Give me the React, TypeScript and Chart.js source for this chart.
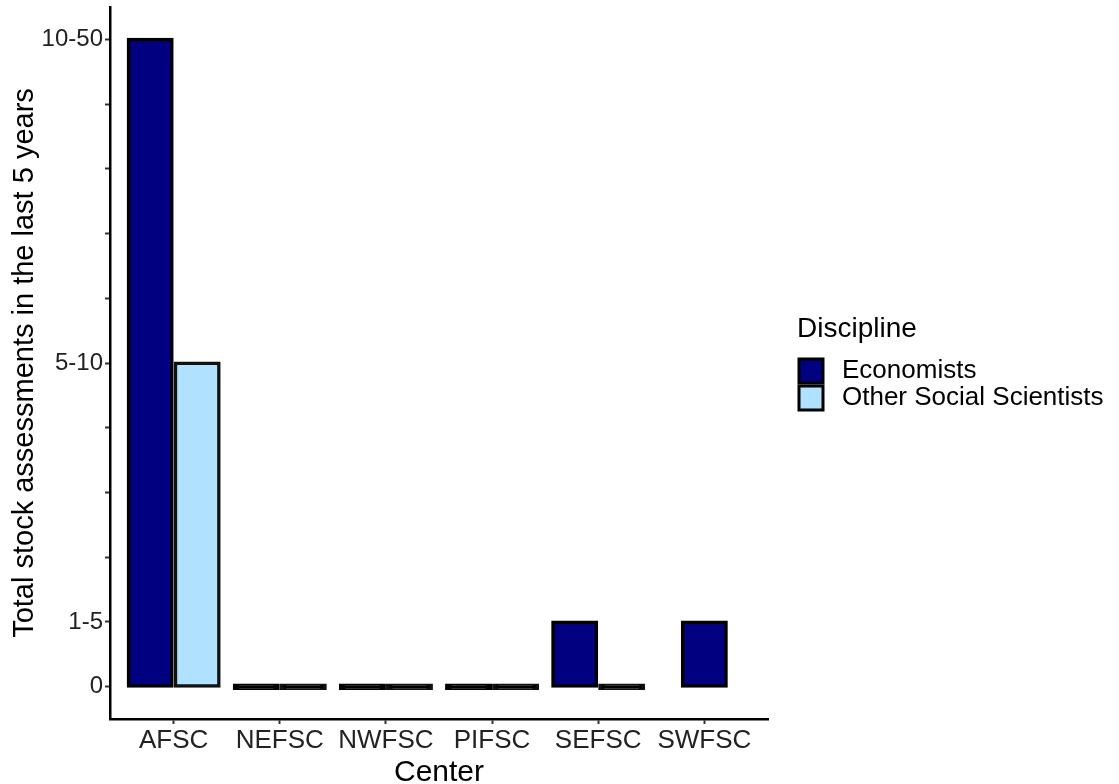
import React, { useEffect, useRef } from "react";
import { Chart, registerables } from "chart.js";

Chart.register(...registerables);

const FONT = "'Liberation Sans', Arial, Helvetica, sans-serif";

// ---- data ----
const centers = ["AFSC", "NEFSC", "NWFSC", "PIFSC", "SEFSC", "SWFSC"];
const centerPositions = [1, 2, 3, 4, 5, 6];
const economists = [10, 0, 0, 0, 1, 1];
const otherSocialScientists: (number | null)[] = [5, 0, 0, 0, 0, null];
const seriesNames = ["Economists", "Other Social Scientists"];
const seriesColors = ["#000080", "#B0E2FF"];
const yTickMarks = [0, 1, 2, 3, 4, 5, 6, 7, 8, 9, 10];
const yLabelValues = [0, 1, 5, 10];
const yLabels = ["0", "1-5", "5-10", "10-50"];
const legendTitle = "Discipline";
const xTitle = "Center";
const yTitle = "Total stock assessments in the last 5 years";

const legendPlugin = {
  id: "ggLegend",
  afterDraw(chart: any) {
    const ctx = chart.ctx as CanvasRenderingContext2D;
    ctx.save();
    ctx.textAlign = "left";
    ctx.fillStyle = "#000";
    ctx.font = `28px ${FONT}`;
    ctx.textBaseline = "alphabetic";
    ctx.fillText(legendTitle, 797, 337);
    chart.data.datasets.forEach((ds: any, i: number) => {
      const y = 359 + i * 27;
      ctx.fillStyle = seriesColors[i];
      ctx.fillRect(799, y, 24, 24);
      ctx.lineWidth = 3;
      ctx.strokeStyle = "#000";
      ctx.strokeRect(799, y, 24, 24);
      ctx.fillStyle = "#000";
      ctx.font = `26px ${FONT}`;
      ctx.textBaseline = "middle";
      ctx.fillText(ds.label, 842, y + 12);
    });
    ctx.restore();
  },
};

export default function App() {
  const canvasRef = useRef<HTMLCanvasElement | null>(null);

  useEffect(() => {
    const canvas = canvasRef.current;
    if (!canvas) return;
    const makeData = (vals: (number | null)[]) =>
      centerPositions.map((x, i) => ({ x, y: vals[i] }));
    const fillFor = (color: string) => (c: any) =>
      c.raw && c.raw.y === 0 ? "#000" : color;

    const chart = new Chart(canvas, {
      type: "bar",
      data: {
        datasets: [
          {
            label: seriesNames[0],
            data: makeData(economists) as any,
            backgroundColor: fillFor(seriesColors[0]) as any,
            borderColor: "#000",
          },
          {
            label: seriesNames[1],
            data: makeData(otherSocialScientists) as any,
            backgroundColor: fillFor(seriesColors[1]) as any,
            borderColor: "#111",
          },
        ],
      },
      options: {
        responsive: false,
        animation: false,
        events: [],
        layout: { padding: { top: 7, right: 351, left: 0, bottom: 0 } },
        datasets: {
          bar: {
            barThickness: 47,
            maxBarThickness: 44,
            borderWidth: 3.5,
            borderSkipped: false,
            minBarLength: 3.5,
            skipNull: true,
            inflateAmount: 1.5,
          } as any,
        },
        plugins: {
          legend: { display: false },
          tooltip: { enabled: false },
        },
        scales: {
          x: {
            type: "linear",
            min: 0.4,
            max: 6.6,
            offset: false,
            afterBuildTicks: (scale: any) => {
              scale.ticks = centerPositions.map((v) => ({ value: v }));
            },
            afterFit: (scale: any) => {
              scale.height = 65;
              scale.paddingLeft = 0;
              scale.paddingRight = 0;
            },
            ticks: {
              autoSkip: false,
              maxRotation: 0,
              padding: 1,
              color: "#222",
              font: { family: FONT, size: 26 },
              callback: (v: any) => {
                const i = centerPositions.indexOf(Number(v));
                return i >= 0 ? centers[i] : "";
              },
            },
            grid: {
              offset: false,
              drawOnChartArea: false,
              drawTicks: true,
              tickLength: 5,
              tickColor: "#333",
              tickWidth: 2,
            },
            border: { display: true, color: "#000", width: 2.5 },
            title: {
              display: true,
              text: xTitle,
              color: "#000",
              font: { family: FONT, size: 30, lineHeight: 0.75 },
              padding: { top: 0, bottom: 0 },
            },
          },
          y: {
            type: "linear",
            min: -0.5,
            max: 10.5,
            afterBuildTicks: (scale: any) => {
              scale.ticks = yTickMarks.map((v) => ({ value: v }));
            },
            afterFit: (scale: any) => {
              scale.width = 110;
              scale.paddingTop = 0;
              scale.paddingBottom = 0;
            },
            ticks: {
              autoSkip: false,
              padding: 2,
              color: "#222",
              font: { family: FONT, size: 24 },
              callback: (v: any) => {
                const i = yLabelValues.indexOf(Number(v));
                return i >= 0 ? yLabels[i] : "";
              },
            },
            grid: {
              drawOnChartArea: false,
              drawTicks: true,
              tickLength: 5,
              tickColor: "#333",
              tickWidth: 2,
            },
            border: { display: true, color: "#000", width: 2.5 },
            title: {
              display: true,
              text: yTitle,
              color: "#000",
              font: { family: FONT, size: 29, lineHeight: 1.2 },
              padding: { top: 8, bottom: 0 },
            },
          },
        },
      },
      plugins: [legendPlugin],
    });

    return () => {
      chart.destroy();
    };
  }, []);

  return (
    <div style={{ position: "absolute", left: 0, top: 0, width: 1119, height: 784, background: "#fff" }}>
      <canvas ref={canvasRef} width={1119} height={784} style={{ display: "block" }} />
    </div>
  );
}
